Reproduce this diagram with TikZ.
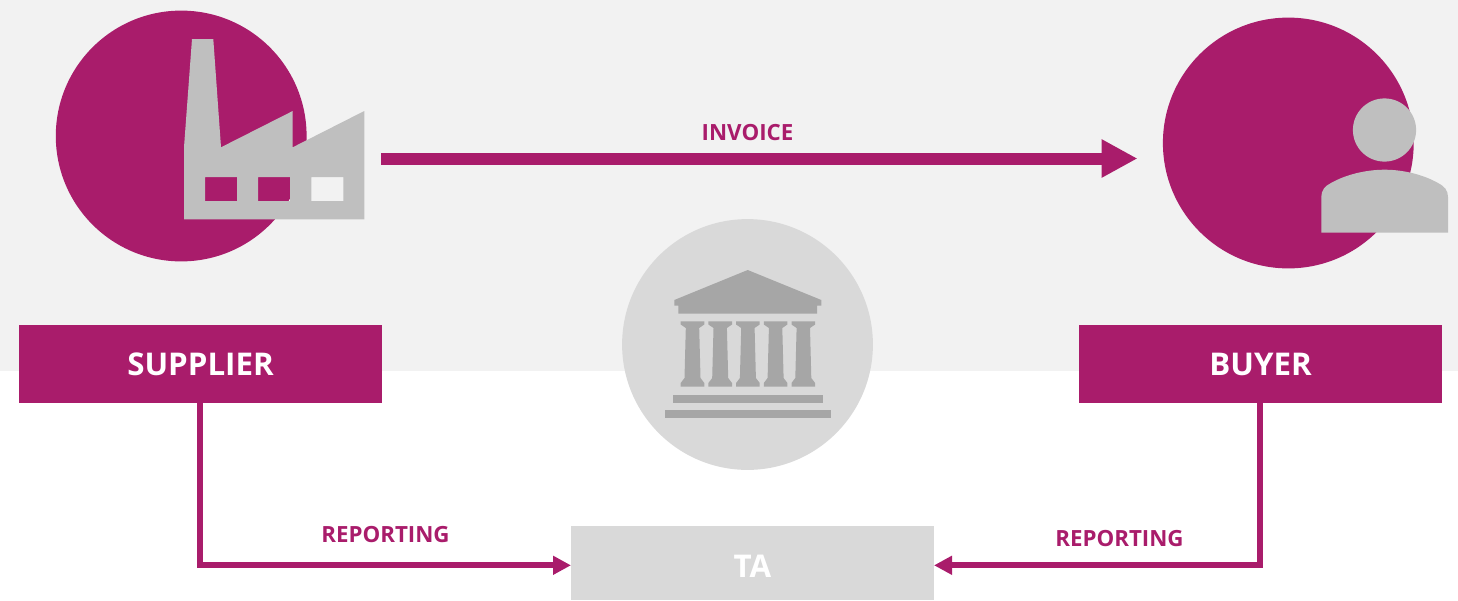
\documentclass[tikz,border=0pt]{standalone}
\usepackage{fontspec}
\setmainfont{Open Sans}
\usetikzlibrary{arrows.meta}
\definecolor{brand}{HTML}{A91C6B}
\definecolor{panel}{HTML}{F2F2F2}
\definecolor{iconGrey}{HTML}{BFBFBF}
\definecolor{softGrey}{HTML}{D9D9D9}
\definecolor{templeGrey}{HTML}{A6A6A6}
\tikzset{
  labelbox/.style={draw=none,fill=brand,minimum width=363pt,minimum height=78pt,inner sep=0pt},
  tabox/.style={draw=none,fill=softGrey,minimum width=363pt,minimum height=74pt,inner sep=0pt},
  boxtext/.style={text=white,inner sep=0pt,font=\fontsize{31.3}{32}\bfseries\selectfont},
  disc/.style={circle,draw=none,inner sep=0pt,minimum size=250.8pt},
  arrowlabel/.style={text=brand,inner sep=0pt,font=\fontsize{22.3}{23}\bfseries\selectfont},
  bigflow/.style={draw=brand,line width=12pt,-{Triangle[length=36pt,width=36pt,fill=brand]}},
  reportflow/.style={draw=brand,line width=6pt,miter limit=10,-{Triangle[length=18pt,width=18pt,fill=brand]}}
}
\begin{document}
\begin{tikzpicture}[x=1pt,y=-1pt]
\useasboundingbox (0,0) rectangle (1458,600);
\fill[panel] (0,0) rectangle (1458,371);
% discs
\node[disc,fill=brand] (supdisc) at (181.2,136) {};
\node[disc,fill=brand] (buydisc) at (1288.3,143) {};
\node[disc,fill=softGrey] (tadisc) at (747.5,344.5) {};
% factory
\fill[iconGrey,even odd rule]
  (192,39) -- (213.3,39) -- (221,147.3) -- (292.7,111) -- (292.7,147.3) -- (364.3,111) -- (364.3,219.3) -- (184,219.3) -- (184,147.3) -- cycle
  (205,177) rectangle (237,201)
  (258,177) rectangle (290,201)
  (311.3,177) rectangle (343.3,201);
% person
\fill[iconGrey] (1384.5,130) circle[radius=31.6];
\fill[iconGrey] (1321.3,232.7) -- (1321.3,197) .. controls (1321.3,190) and (1325,186) .. (1331,183)
  .. controls (1345,175) and (1365,169.7) .. (1384.7,169.7)
  .. controls (1404,169.7) and (1424,175) .. (1438,183)
  .. controls (1444,186) and (1448,190) .. (1448,197) -- (1448,232.7) -- cycle;
% temple
\fill[templeGrey] (747.7,270) -- (821.3,300) -- (821.3,305.7) -- (817,305.7) -- (817,313.7) -- (678.3,313.7) -- (678.3,305.7) -- (674.3,305.7) -- (674.3,300) -- cycle;
\foreach \cx in {692.5,720.2,747.9,775.6,803.3}{
  \fill[templeGrey] (\cx-11.8,321.3) -- (\cx+11.8,321.3) -- (\cx+11.8,324.5) -- (\cx+6.7,328) -- (\cx+8,378) -- (\cx+11.8,383) -- (\cx+11.8,386.7) -- (\cx-11.8,386.7) -- (\cx-11.8,383) -- (\cx-8,378) -- (\cx-6.7,328) -- (\cx-11.8,324.5) -- cycle;
}
\fill[templeGrey] (672.7,395) rectangle (823,402.7);
\fill[templeGrey] (665,410.3) rectangle (831,418.3);
% boxes
\node[labelbox] (supplier) at (200.5,364) {};
\node[labelbox] (buyer) at (1260.5,364) {};
\node[tabox] (ta) at (752.5,563) {};
\node[boxtext] (suppliertext) at (200.5,364.5) {SUPPLIER};
\node[boxtext] (buyertext) at (1260.5,364.5) {BUYER};
\node[boxtext] (tatext) at (752.5,566) {TA};
% connectors
\coordinate (invoicestart) at (381.3,158.5);
\coordinate (invoiceend) at (1137.5,158.5);
\coordinate (leftdrop) at (200.3,403);
\coordinate (rightdrop) at (1260,403);
\coordinate (tawest) at (571,565.3);
\coordinate (taeast) at (934,565.3);
\draw[bigflow] (invoicestart) -- (invoiceend);
\draw[reportflow] (leftdrop) |- (tawest);
\draw[reportflow] (rightdrop) |- (taeast);
% labels
\node[arrowlabel] (invoicelabel) at (747.5,133) {INVOICE};
\node[arrowlabel] (reportleft) at (385.5,535) {REPORTING};
\node[arrowlabel] (reportright) at (1119.5,539) {REPORTING};
\end{tikzpicture}
\end{document}
